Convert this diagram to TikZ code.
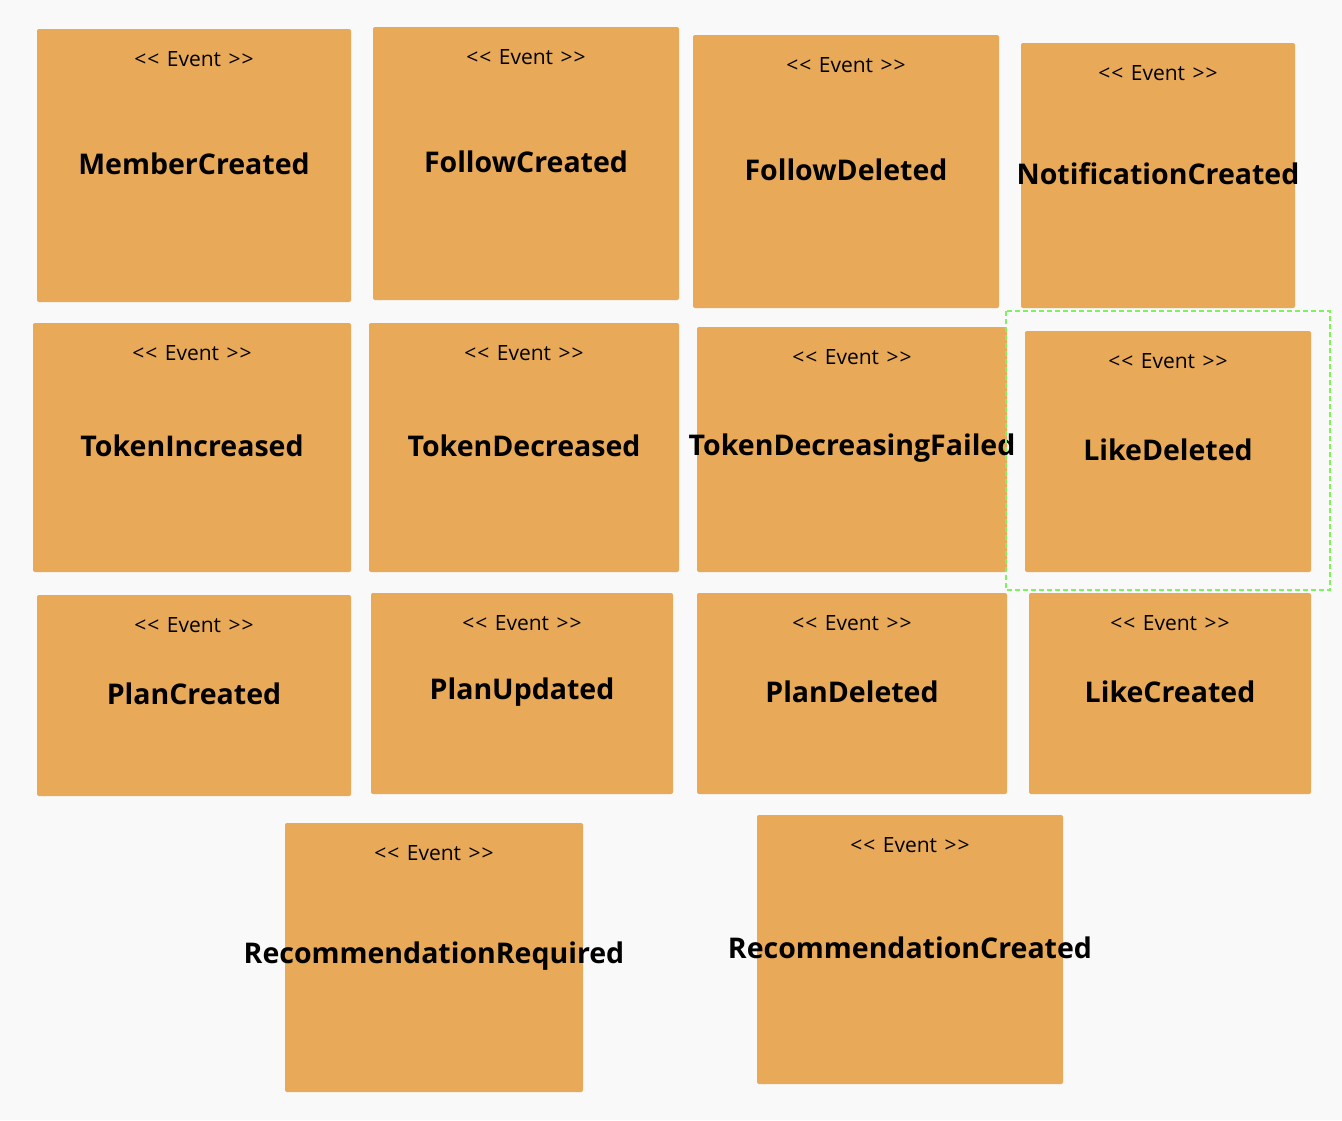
\documentclass[tikz,border=0pt]{standalone}
\usepackage{fontspec}
\setmainfont{Open Sans}
\begin{document}
\begin{tikzpicture}[x=1pt,y=-1pt,
  evfill/.style={fill=evorange,draw=none,rounded corners=2pt},
  evtag/.style={font=\fontsize{21}{24}\selectfont,inner sep=0pt,text=black},
  evname/.style={font=\fontsize{28.5}{34}\selectfont\bfseries,inner sep=0pt,text=black}]
\definecolor{evorange}{HTML}{E8A958}
\definecolor{bgc}{HTML}{F9F9F9}
\definecolor{selgreen}{HTML}{7DF55A}
\fill[bgc] (0,0) rectangle (1342,1120);
\useasboundingbox (0,0) rectangle (1342,1120);
\newcommand\evbox[8]{%
  \path[evfill] (#2,#3) rectangle (#4,#5);
  \node[evtag] (#1t) at ({(#2+#4)/2},#6) {<\kern1pt<\hspace{2pt} Event \hspace{2pt}>\kern1pt>};
  \node[evname] (#1) at ({(#2+#4)/2},#7) {#8};
}
\evbox{mc}{37}{29}{351}{302}{59}{164}{MemberCreated}
\evbox{fc}{373}{27}{679}{300}{57}{162}{FollowCreated}
\evbox{fd}{693}{35}{999}{308}{65}{170}{FollowDeleted}
\evbox{nc}{1021}{43}{1295}{308}{73}{174}{NotificationCreated}
\evbox{ti}{33}{323}{351}{572}{353}{446}{TokenIncreased}
\evbox{td}{369}{323}{679}{572}{353}{446}{TokenDecreased}
\evbox{tf}{697}{327}{1007}{572}{357}{448}{TokenDecreasingFailed}
\evbox{ld}{1025}{331}{1311}{572}{361}{450}{LikeDeleted}
\evbox{pc}{37}{595}{351}{796}{625}{694}{PlanCreated}
\evbox{pu}{371}{593}{673}{794}{623}{692}{PlanUpdated}
\evbox{pd}{697}{593}{1007}{794}{623}{692}{PlanDeleted}
\evbox{lc}{1029}{593}{1311}{794}{623}{692}{LikeCreated}
\evbox{rr}{285}{823}{583}{1092}{853}{956}{RecommendationRequired}
\evbox{rc}{757}{815}{1063}{1084}{845}{948}{RecommendationCreated}
\draw[selgreen,line width=1.3pt,dash pattern=on 5pt off 3pt] (1006,311) rectangle (1330,590);
\end{tikzpicture}
\end{document}
